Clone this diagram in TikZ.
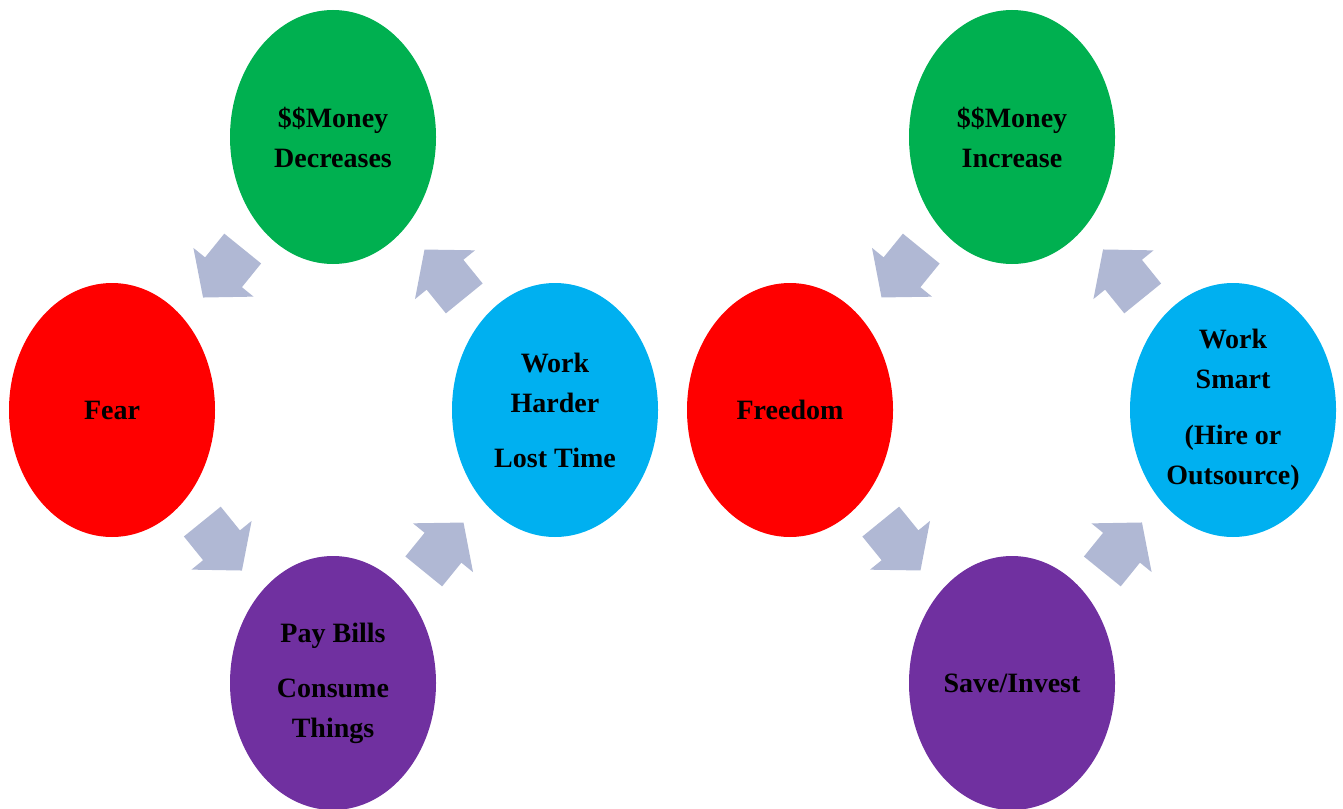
\documentclass[tikz,border=0pt]{standalone}
\usepackage{fontspec}
\setmainfont{Liberation Serif}
\usetikzlibrary{shapes.geometric,shapes.arrows}
\definecolor{cgreen}{HTML}{00B050}
\definecolor{cred}{HTML}{FF0000}
\definecolor{ccyan}{HTML}{00B0F0}
\definecolor{cpurple}{HTML}{7030A0}
\definecolor{carrow}{HTML}{B0B8D4}
\tikzset{
  ell/.style={ellipse, draw=none, minimum width=206pt, minimum height=254pt, inner sep=0pt,
    align=center, font=\bfseries\fontsize{28}{40}\selectfont, text=black},
  barrow/.style={single arrow, fill=carrow, draw=none, minimum height=63pt,
    inner xsep=0pt, inner ysep=23.5pt, single arrow head extend=15pt,
    single arrow tip angle=100, sloped, allow upside down, pos=0.47},
}
\begin{document}
\begin{tikzpicture}[x=1pt,y=-1pt]
\useasboundingbox (0,0) rectangle (1343,808);
\clip (0,0) rectangle (1343,808);
% left cycle
\node[ell, fill=cgreen]  (gL) at (333,137) {\$\$Money\\Decreases};
\node[ell, fill=cred]    (rL) at (112,410) {Fear};
\node[ell, fill=ccyan]   (cL) at (555,410) {Work\\Harder\\[15pt]Lost Time};
\node[ell, fill=cpurple] (pL) at (333,683) {Pay Bills\\[15pt]Consume\\Things};
% right cycle
\node[ell, fill=cgreen]  (gR) at (1012,137) {\$\$Money\\Increase};
\node[ell, fill=cred]    (rR) at (790,410) {Freedom};
\node[ell, fill=ccyan]   (cR) at (1233,410) {Work\\Smart\\[16pt](Hire or\\Outsource)};
\node[ell, fill=cpurple] (pR) at (1012,683) {Save/Invest};
% arrows
\path (gL.center) -- node[barrow] (a1) {} (rL.center);
\path (rL.center) -- node[barrow] (a2) {} (pL.center);
\path (pL.center) -- node[barrow] (a3) {} (cL.center);
\path (cL.center) -- node[barrow] (a4) {} (gL.center);
\path (gR.center) -- node[barrow] (b1) {} (rR.center);
\path (rR.center) -- node[barrow] (b2) {} (pR.center);
\path (pR.center) -- node[barrow] (b3) {} (cR.center);
\path (cR.center) -- node[barrow] (b4) {} (gR.center);
\end{tikzpicture}
\end{document}
